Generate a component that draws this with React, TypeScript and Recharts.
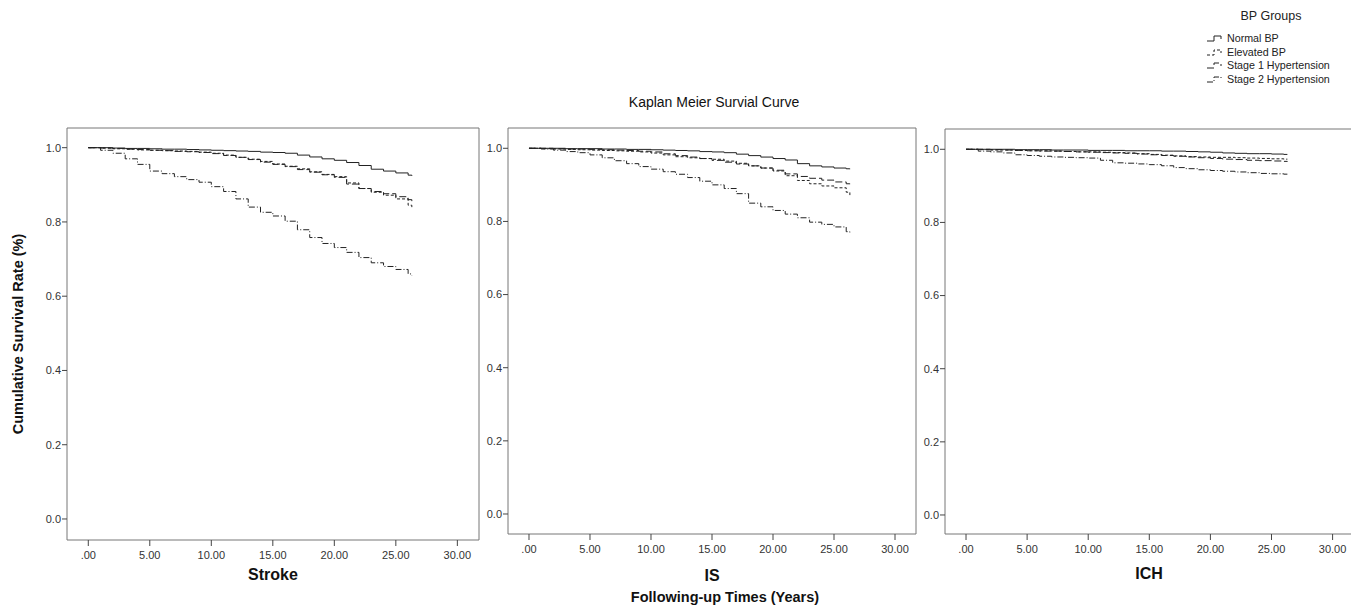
import type { ReactElement } from "react";
import { Legend, Line, LineChart, XAxis, YAxis } from "recharts";

// follow-up times (years) at which the curves are read
const TIMES = [0, 1, 2, 3, 4, 5, 6, 7, 8, 9, 10, 11, 12, 13, 14, 15, 16, 17, 18, 19, 20, 21, 22, 23, 24, 25, 26, 26.3];

const STROKE_NORMAL = [1.0, 1.0, 0.999, 0.998, 0.998, 0.997, 0.996, 0.996, 0.995, 0.994, 0.993, 0.992, 0.991, 0.99, 0.988, 0.987, 0.985, 0.98, 0.975, 0.97, 0.966, 0.96, 0.952, 0.942, 0.937, 0.932, 0.926, 0.924];
const STROKE_ELEVATED = [1.0, 0.999, 0.997, 0.996, 0.994, 0.993, 0.992, 0.991, 0.99, 0.988, 0.985, 0.98, 0.974, 0.969, 0.963, 0.956, 0.95, 0.943, 0.935, 0.928, 0.922, 0.905, 0.89, 0.88, 0.872, 0.862, 0.845, 0.838];
const STROKE_STAGE1 = [1.0, 0.999, 0.998, 0.996, 0.995, 0.993, 0.992, 0.99, 0.989, 0.987, 0.984, 0.979, 0.974, 0.968, 0.961, 0.955, 0.949, 0.941, 0.934, 0.927, 0.92, 0.902, 0.89, 0.882, 0.876, 0.868, 0.86, 0.856];
const STROKE_STAGE2 = [1.0, 0.993, 0.985, 0.97, 0.955, 0.937, 0.93, 0.922, 0.914, 0.907, 0.895, 0.882, 0.862, 0.84, 0.826, 0.816, 0.802, 0.779, 0.758, 0.742, 0.731, 0.718, 0.704, 0.69, 0.68, 0.672, 0.66, 0.656];

const IS_NORMAL = [1.0, 1.0, 1.0, 0.999, 0.999, 0.999, 0.998, 0.998, 0.997, 0.997, 0.996, 0.995, 0.994, 0.993, 0.991, 0.99, 0.988, 0.984, 0.98, 0.976, 0.972, 0.968, 0.958, 0.952, 0.949, 0.946, 0.944, 0.943];
const IS_ELEVATED = [1.0, 0.999, 0.998, 0.997, 0.996, 0.995, 0.994, 0.993, 0.992, 0.99, 0.987, 0.982, 0.977, 0.974, 0.972, 0.97, 0.965, 0.959, 0.952, 0.946, 0.938, 0.925, 0.912, 0.903, 0.897, 0.892, 0.88, 0.872];
const IS_STAGE1 = [1.0, 1.0, 0.999, 0.998, 0.998, 0.997, 0.996, 0.995, 0.994, 0.992, 0.99, 0.985, 0.98, 0.976, 0.972, 0.967, 0.962, 0.957, 0.952, 0.946, 0.94, 0.93, 0.923, 0.918, 0.913, 0.908, 0.903, 0.902];
const IS_STAGE2 = [1.0, 0.998, 0.995, 0.991, 0.988, 0.982, 0.974, 0.966, 0.958, 0.95, 0.943, 0.936, 0.929, 0.92, 0.91, 0.9, 0.89, 0.876, 0.85, 0.84, 0.83, 0.82, 0.81, 0.798, 0.792, 0.785, 0.772, 0.769];

const ICH_NORMAL = [1.0, 1.0, 1.0, 1.0, 0.999, 0.999, 0.999, 0.998, 0.998, 0.998, 0.997, 0.997, 0.997, 0.996, 0.996, 0.996, 0.995, 0.995, 0.994, 0.993, 0.992, 0.99, 0.989, 0.988, 0.988, 0.987, 0.986, 0.986];
const ICH_ELEVATED = [1.0, 0.999, 0.998, 0.998, 0.997, 0.996, 0.996, 0.995, 0.994, 0.993, 0.993, 0.992, 0.991, 0.99, 0.988, 0.986, 0.984, 0.982, 0.98, 0.979, 0.978, 0.978, 0.977, 0.976, 0.975, 0.974, 0.973, 0.973];
const ICH_STAGE1 = [1.0, 1.0, 0.999, 0.998, 0.997, 0.996, 0.995, 0.995, 0.994, 0.993, 0.992, 0.991, 0.99, 0.989, 0.987, 0.985, 0.983, 0.981, 0.979, 0.977, 0.975, 0.973, 0.972, 0.97, 0.969, 0.968, 0.967, 0.966];
const ICH_STAGE2 = [1.0, 0.995, 0.993, 0.99, 0.985, 0.983, 0.981, 0.979, 0.978, 0.977, 0.976, 0.97, 0.963, 0.962, 0.96, 0.958, 0.955, 0.95, 0.947, 0.944, 0.942, 0.94, 0.938, 0.936, 0.934, 0.933, 0.932, 0.932];

const X_TICKS = [0, 5, 10, 15, 20, 25, 30];
const X_TICK_LABELS = [".00", "5.00", "10.00", "15.00", "20.00", "25.00", "30.00"];
const Y_TICKS = [0, 0.2, 0.4, 0.6, 0.8, 1.0];
const Y_TICK_LABELS = ["0.0", "0.2", "0.4", "0.6", "0.8", "1.0"];

const GROUP_KEYS = ["normal", "elevated", "stage1", "stage2"];
const GROUP_NAMES = ["Normal BP", "Elevated BP", "Stage 1 Hypertension", "Stage 2 Hypertension"];
const GROUP_DASHES = ["", "3 2", "7 3", "6 2 1 2"];

const FONT = "'Liberation Sans', Arial, sans-serif";
const INK = "#222";
const FRAME = "#777";

type Row = { t: number; normal: number; elevated: number; stage1: number; stage2: number };

function buildRows(series: number[][]): Row[] {
  return TIMES.map((t, i) => ({
    t,
    normal: series[0][i],
    elevated: series[1][i],
    stage1: series[2][i],
    stage2: series[3][i],
  }));
}

type Panel = {
  name: string;
  rows: Row[];
  left: number;
  top: number;
  yAxisWidth: number;
  plotW: number;
  plotH: number;
  xAxisH: number;
  labelOffset: number;
  xDomain: [number, number];
  yDomain: [number, number];
  yTitle?: string;
  legend?: boolean;
};

const PANELS: Panel[] = [
  {
    name: "Stroke",
    rows: buildRows([STROKE_NORMAL, STROKE_ELEVATED, STROKE_STAGE1, STROKE_STAGE2]),
    left: 0, top: 123, yAxisWidth: 67, plotW: 412, plotH: 412, xAxisH: 45, labelOffset: 5,
    xDomain: [-1.73, 31.76], yDomain: [-0.0566, 1.053],
    yTitle: "Cumulative Survival Rate (%)",
  },
  {
    name: "IS",
    rows: buildRows([IS_NORMAL, IS_ELEVATED, IS_STAGE1, IS_STAGE2]),
    left: 463, top: 123, yAxisWidth: 45, plotW: 408, plotH: 406, xAxisH: 50, labelOffset: 3,
    xDomain: [-1.72, 31.72], yDomain: [-0.0547, 1.0555],
  },
  {
    name: "ICH",
    rows: buildRows([ICH_NORMAL, ICH_ELEVATED, ICH_STAGE1, ICH_STAGE2]),
    left: 900, top: 124, yAxisWidth: 45, plotW: 408, plotH: 405, xAxisH: 50, labelOffset: 5,
    xDomain: [-1.72, 31.67], yDomain: [-0.052, 1.0555],
    legend: true,
  },
];

const tickStyle = { fontSize: 11, fontFamily: FONT, fill: "#333" };

function BpLegend(): ReactElement {
  return (
    <div style={{ fontFamily: FONT, color: INK, width: 130 }}>
      <div style={{ fontSize: 12.5, textAlign: "center", height: 23, lineHeight: "16px" }}>BP Groups</div>
      {GROUP_NAMES.map((name, i) => (
        <div key={name} style={{ display: "flex", alignItems: "center", height: 13.7, fontSize: 10.7 }}>
          <svg width={20} height={10} style={{ marginRight: 1 }}>
            <path
              d="M1,8 H8 V3 H15 V6"
              fill="none"
              stroke={INK}
              strokeWidth={1}
              strokeDasharray={GROUP_DASHES[i] || undefined}
            />
          </svg>
          <span>{name}</span>
        </div>
      ))}
    </div>
  );
}

function SurvivalPanel({ panel }: { panel: Panel }): ReactElement {
  const width = panel.yAxisWidth + panel.plotW + 5;
  const height = 5 + panel.plotH + panel.xAxisH;
  return (
    <div style={{ position: "absolute", left: panel.left, top: panel.top }}>
      <LineChart
        width={width}
        height={height}
        data={panel.rows}
        margin={{ top: 4, right: 4, bottom: 0, left: 0 }}
      >
        <XAxis
          dataKey="t"
          type="number"
          domain={panel.xDomain}
          allowDataOverflow
          ticks={X_TICKS}
          tickFormatter={(v: number) => X_TICK_LABELS[X_TICKS.indexOf(v)] ?? ""}
          height={panel.xAxisH}
          tick={tickStyle}
          tickSize={6}
          tickMargin={5}
          axisLine={{ stroke: FRAME }}
          tickLine={{ stroke: "#444" }}
          label={{
            value: panel.name,
            position: "insideBottom",
            offset: panel.labelOffset,
            style: { fontSize: 16, fontWeight: "bold", fontFamily: FONT, fill: "#111" },
          }}
        />
        <XAxis
          xAxisId="top"
          dataKey="t"
          type="number"
          orientation="top"
          domain={panel.xDomain}
          allowDataOverflow
          height={1}
          tick={false}
          tickLine={false}
          axisLine={{ stroke: FRAME }}
        />
        <YAxis
          type="number"
          domain={panel.yDomain}
          allowDataOverflow
          ticks={Y_TICKS}
          tickFormatter={(v: number) => Y_TICK_LABELS[Y_TICKS.findIndex((y) => Math.abs(y - v) < 1e-6)] ?? ""}
          width={panel.yAxisWidth}
          tick={tickStyle}
          tickSize={5}
          tickMargin={1}
          axisLine={{ stroke: FRAME }}
          tickLine={{ stroke: "#444" }}
          label={
            panel.yTitle
              ? {
                  content: (props: any) => {
                    const vb = props.viewBox ?? { x: 0, y: 0, height: 0 };
                    const cx = 18;
                    const cy = vb.y + vb.height / 2;
                    return (
                      <text
                        x={cx}
                        y={cy}
                        transform={`rotate(-90 ${cx} ${cy})`}
                        textAnchor="middle"
                        dominantBaseline="central"
                        style={{ fontSize: 14.5, fontWeight: "bold", fontFamily: FONT, fill: "#111" }}
                      >
                        {panel.yTitle}
                      </text>
                    );
                  },
                }
              : undefined
          }
        />
        <YAxis
          yAxisId="right"
          orientation="right"
          type="number"
          domain={panel.yDomain}
          allowDataOverflow
          width={1}
          tick={false}
          tickLine={false}
          axisLine={{ stroke: FRAME }}
        />
        {GROUP_KEYS.map((key, i) => (
          <Line
            key={key}
            type="stepAfter"
            dataKey={key}
            name={GROUP_NAMES[i]}
            stroke={INK}
            strokeWidth={1}
            strokeDasharray={GROUP_DASHES[i] || undefined}
            dot={false}
            activeDot={false}
            isAnimationActive={false}
          />
        ))}
        {panel.legend && (
          <Legend
            layout="horizontal"
            verticalAlign="middle"
            align="center"
            content={() => <BpLegend />}
            wrapperStyle={{ position: "absolute", left: 306, top: -116, width: 135 }}
          />
        )}
      </LineChart>
    </div>
  );
}

export default function App(): ReactElement {
  return (
    <div
      style={{
        position: "absolute",
        left: 0,
        top: 0,
        width: 1351,
        height: 608,
        overflow: "hidden",
        background: "#fff",
        fontFamily: FONT,
      }}
    >
      <div
        style={{
          position: "absolute",
          left: 514,
          width: 400,
          top: 94,
          textAlign: "center",
          fontSize: 14,
          color: "#111",
        }}
      >
        Kaplan Meier Survial Curve
      </div>
      {PANELS.map((p) => (
        <SurvivalPanel key={p.name} panel={p} />
      ))}
      <div
        style={{
          position: "absolute",
          left: 575,
          width: 300,
          top: 589,
          textAlign: "center",
          fontSize: 14.5,
          fontWeight: "bold",
          color: "#111",
        }}
      >
        Following-up Times (Years)
      </div>
    </div>
  );
}
